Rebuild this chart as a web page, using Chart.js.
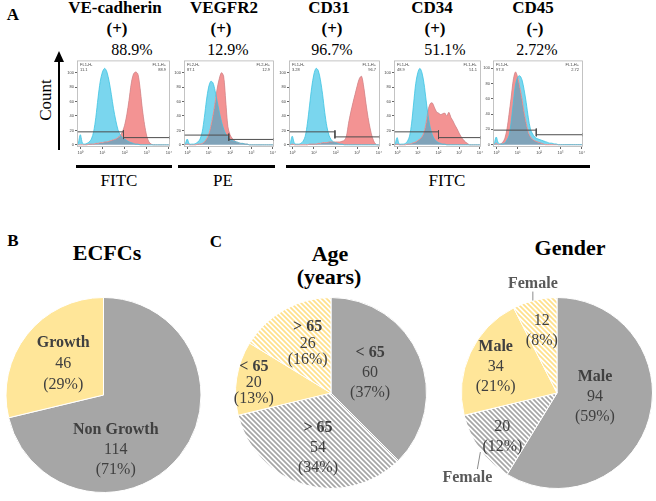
<!DOCTYPE html>
<html>
<head>
<meta charset="utf-8">
<script src="https://cdn.jsdelivr.net/npm/chart.js@4"></script>
<style>
  body { margin: 0; width: 656px; height: 501px; background: #fff; position: relative; overflow: hidden; font-family: 'Liberation Serif', 'Times New Roman', serif; color: #000; }
  .t { position: absolute; transform: translate(-50%, -50%); white-space: nowrap; line-height: 1; }
  .b { font-weight: bold; }
  .box { position: absolute; }
  .rule { position: absolute; background: #000; height: 3px; }
</style>
</head>
<body>
<div class="t b" style="left:13px;top:14px;font-size:17px">A</div>
<div class="t b" style="left:13px;top:240px;font-size:17px">B</div>
<div class="t b" style="left:216px;top:241px;font-size:17px">C</div>

<div class="t" style="left:45px;top:100px;font-size:17px;transform:translate(-50%,-50%) rotate(-90deg)">Count</div>
<div style="position:absolute;left:58px;top:60px;width:2px;height:90px;background:#000"></div>
<div style="position:absolute;left:54px;top:51px;width:0;height:0;border-left:5px solid transparent;border-right:5px solid transparent;border-bottom:11px solid #000"></div>

<div class="rule" style="left:76px;top:165px;width:96px"></div>
<div class="rule" style="left:178px;top:165px;width:97px"></div>
<div class="rule" style="left:286px;top:165px;width:304px"></div>
<div class="t" style="left:119px;top:180px;font-size:17px">FITC</div>
<div class="t" style="left:223px;top:180px;font-size:17px">PE</div>
<div class="t" style="left:447px;top:180px;font-size:17px">FITC</div>

<div class="t b" style="left:107px;top:253px;font-size:22px">ECFCs</div>
<div class="t b" style="left:330px;top:254px;font-size:22px">Age</div>
<div class="t b" style="left:329px;top:277px;font-size:22px">(years)</div>
<div class="t b" style="left:570px;top:248px;font-size:22px">Gender</div>

<div class="box" style="left:1px;top:293px;width:205px;height:204px"><canvas id="pie0"></canvas></div>
<div class="box" style="left:231px;top:293px;width:200px;height:200px"><canvas id="pie1"></canvas></div>
<div class="box" style="left:437px;top:273px;width:240px;height:240px"><canvas id="pie2"></canvas></div>

<script>
// flow cytometry panels
const markerNames = ['VE-cadherin', 'VEGFR2', 'CD31', 'CD34', 'CD45'];
const markerSign = ['(+)', '(+)', '(+)', '(+)', '(-)'];
const markerPct = ['88.9%', '12.9%', '96.7%', '51.1%', '2.72%'];
const negPct = ['11.1', '87.1', '3.28', '48.9', '97.3'];
const posPct = ['88.9', '12.9', '96.7', '51.1', '2.72'];
const channel = ['FL1-H', 'FL2-H', 'FL1-H', 'FL1-H', 'FL1-H'];

// log10 of fluorescence, one point per 0.1 decade
const xDecades = [-0.1, 0.0, 0.1, 0.2, 0.3, 0.4, 0.5, 0.6, 0.7, 0.8, 0.9, 1.0, 1.1, 1.2, 1.3, 1.4, 1.5, 1.6, 1.7, 1.8, 1.9, 2.0,
  2.1, 2.2, 2.3, 2.4, 2.5, 2.6, 2.7, 2.8, 2.9, 3.0, 3.1, 3.2, 3.3, 3.4, 3.5, 3.6, 3.7, 3.8, 3.9, 4.0];
const decadeTicks = [0, 1, 2, 3, 4];
const countTicks = [0, 20, 40, 60, 80, 100];

const vecadIso = [0, 14, 2, 1, 2, 4, 8, 18, 38, 65, 88, 101, 106, 101, 88, 70, 50, 34, 21, 14, 10, 8, 6, 4, 3, 2, 1, 1, 0, 0, 0, 0, 0, 0, 0, 0, 0, 0, 0, 0, 0, 0];
const vecadStain = [0, 0, 0, 0, 0, 1, 1, 1, 2, 2, 3, 3, 4, 4, 5, 6, 7, 8, 10, 13, 18, 27, 42, 62, 85, 98, 101, 98, 78, 50, 28, 12, 4, 1, 0, 0, 0, 0, 0, 0, 0, 0];
const vegfIso = [0, 8, 1, 1, 1, 2, 4, 8, 18, 38, 62, 80, 88, 86, 75, 60, 45, 32, 22, 15, 11, 8, 6, 5, 4, 3, 2, 2, 1, 1, 0, 0, 0, 0, 0, 0, 0, 0, 0, 0, 0, 0];
const vegfStain = [0, 1, 0, 0, 0, 0, 1, 1, 2, 4, 8, 14, 25, 40, 58, 78, 92, 100, 95, 60, 25, 14, 9, 6, 4, 3, 2, 2, 1, 1, 0, 0, 0, 0, 0, 0, 0, 0, 0, 0, 0, 0];
const cd31Iso = [0, 12, 2, 1, 1, 2, 5, 12, 30, 55, 80, 98, 106, 103, 90, 70, 45, 25, 13, 7, 4, 3, 2, 1, 1, 0, 0, 0, 0, 0, 0, 0, 0, 0, 0, 0, 0, 0, 0, 0, 0, 0];
const cd31Stain = [0, 1, 0, 0, 0, 0, 0, 0, 0, 1, 1, 1, 1, 2, 2, 3, 3, 3, 4, 4, 4, 4, 4, 4, 5, 6, 12, 30, 45, 58, 70, 82, 92, 95, 80, 58, 38, 22, 10, 3, 0, 0];
const cd34Iso = [0, 10, 1, 1, 1, 2, 5, 12, 30, 58, 85, 100, 106, 100, 85, 62, 40, 24, 14, 8, 5, 3, 2, 1, 1, 0, 0, 0, 0, 0, 0, 0, 0, 0, 0, 0, 0, 0, 0, 0, 0, 0];
const cd34Stain = [0, 1, 0, 0, 0, 0, 1, 1, 2, 3, 4, 6, 8, 11, 17, 30, 48, 57, 58, 52, 46, 44, 42, 43, 44, 40, 45, 38, 33, 27, 22, 16, 11, 7, 4, 2, 0, 0, 0, 0, 0, 0];
const cd45Iso = [0, 10, 2, 1, 1, 2, 6, 12, 30, 55, 78, 88, 90, 85, 72, 55, 35, 20, 14, 10, 8, 7, 6, 5, 4, 3, 2, 2, 1, 1, 0, 0, 0, 0, 0, 0, 0, 0, 0, 0, 0, 0];
const cd45Stain = [0, 2, 0, 1, 3, 8, 20, 40, 62, 85, 95, 88, 75, 60, 42, 28, 16, 10, 7, 5, 4, 3, 2, 1, 0, 0, 0, 0, 0, 0, 0, 0, 0, 0, 0, 0, 0, 0, 0, 0, 0, 0];

const isoSeries = [vecadIso, vegfIso, cd31Iso, cd34Iso, cd45Iso];
const stainSeries = [vecadStain, vegfStain, cd31Stain, cd34Stain, cd45Stain];

// gate markers: split point (decades) and the y of the negative / positive bars
const gateSplit = [1.95, 1.94, 1.97, 2.0, 1.87];
const gateNegY = [18, 13.5, 18, 18, 19];
const gatePosY = [10, 7.5, 11, 10, 13];

// pies
const ecfcLabels = ['Non Growth', 'Growth'];
const ecfcValues = [114, 46];
const ecfcPct = ['71%', '29%'];

const ageLabels = ['< 65', '> 65', '< 65', '> 65'];
const ageValues = [60, 54, 20, 26];
const agePct = ['37%', '34%', '13%', '16%'];

const genderLabels = ['Male', 'Female', 'Male', 'Female'];
const genderValues = [94, 20, 34, 12];
const genderPct = ['59%', '12%', '21%', '8%'];

// layout
const boxLeft = [77, 184, 289, 394, 493];
const boxWidth = [95, 92, 93, 89, 92];
const boxTop = 58, boxHeight = 89;
const yMax = [117, 117, 117, 117, 110];
const titleX = [115, 224, 329, 432, 533];
const signX = [117, 221, 332, 435, 535];
const pctX = [132, 228, 332, 445, 537];

const CYAN = '#7ad6ee', RED = '#f39393', OVER = '#80a3b9';
const GRAY = '#a6a6a6', YELLOW = '#ffe699';
const sup = ['\u2070', '\u00b9', '\u00b2', '\u00b3', '\u2074'];

function addText(txt, x, y, size, bold) {
  var d = document.createElement('div');
  d.className = 't' + (bold ? ' b' : '');
  d.style.left = x + 'px';
  d.style.top = y + 'px';
  d.style.fontSize = size + 'px';
  d.textContent = txt;
  document.body.appendChild(d);
}

for (let i = 0; i < 5; i++) {
  addText(markerNames[i], titleX[i], 7, 17, true);
  addText(markerSign[i], signX[i], 28, 17, true);
  addText(markerPct[i], pctX[i], 50, 16, false);

  const holder = document.createElement('div');
  holder.className = 'box';
  holder.style.left = (boxLeft[i] - 10) + 'px';
  holder.style.top = (boxTop - 1) + 'px';
  holder.style.width = (boxWidth[i] + 11) + 'px';
  holder.style.height = (boxHeight + 10) + 'px';
  const cv = document.createElement('canvas');
  holder.appendChild(cv);
  document.body.appendChild(holder);

  const pts = arr => arr.map((v, k) => ({x: xDecades[k], y: v}));
  const lo = -0.15, hi = 4.05;
  const gate = [
    {x: lo, y: gateNegY[i]}, {x: gateSplit[i], y: gateNegY[i]}, {x: gateSplit[i], y: null},
    {x: gateSplit[i], y: gateNegY[i] + 2}, {x: gateSplit[i], y: gatePosY[i] - 2}, {x: gateSplit[i], y: null},
    {x: gateSplit[i], y: gatePosY[i]}, {x: hi, y: gatePosY[i]}, {x: hi, y: null},
    {x: hi - 0.01, y: gatePosY[i] + 2}, {x: hi - 0.01, y: gatePosY[i] - 2}
  ];

  const frame = {
    id: 'frame' + i,
    afterDraw(chart) {
      const a = chart.chartArea, ctx = chart.ctx;
      ctx.save();
      ctx.strokeStyle = '#b5b5b5';
      ctx.lineWidth = 0.8;
      ctx.strokeRect(a.left + 0.5, a.top + 0.5, a.right - a.left - 1, a.bottom - a.top - 1);
      ctx.fillStyle = '#444';
      ctx.font = '4px Arial';
      ctx.textAlign = 'left';
      ctx.fillText(channel[i] + '-', a.left + 3, a.top + 6);
      ctx.fillText(negPct[i], a.left + 3, a.top + 11);
      ctx.textAlign = 'right';
      ctx.fillText(channel[i] + '+', a.right - 4, a.top + 6);
      ctx.fillText(posPct[i], a.right - 4, a.top + 11);
      ctx.restore();
    }
  };

  new Chart(cv, {
    type: 'line',
    data: {
      datasets: [
        {data: gate, borderColor: '#4d4d4d', borderWidth: 1, pointRadius: 0, fill: false, spanGaps: false},
        {data: pts(isoSeries[i]), borderColor: '#3ec4e2', borderWidth: 0.8, pointRadius: 0, tension: 0.3,
          fill: {target: 2, above: CYAN, below: RED}},
        {data: pts(stainSeries[i]), borderColor: '#e68484', borderWidth: 0.8, pointRadius: 0, tension: 0.3,
          fill: 'origin', backgroundColor: OVER}
      ]
    },
    options: {
      responsive: true,
      maintainAspectRatio: false,
      animation: false,
      layout: {padding: {top: 1, right: 1, left: 0, bottom: 0}},
      plugins: {legend: {display: false}, tooltip: {enabled: false}, filler: {drawTime: 'beforeDatasetsDraw'}},
      scales: {
        x: {
          type: 'linear', min: lo, max: hi,
          afterBuildTicks: s => { s.ticks = decadeTicks.map(v => ({value: v})); },
          afterFit: s => { s.height = 9; },
          ticks: {font: {size: 4}, color: '#444', padding: 1, maxRotation: 0, autoSkip: false,
            callback: v => '10' + sup[v]},
          grid: {drawOnChartArea: false, tickLength: 2, color: '#666'},
          border: {display: false}
        },
        y: {
          min: -3, max: yMax[i],
          afterBuildTicks: s => { s.ticks = countTicks.map(v => ({value: v})); },
          afterFit: s => { s.width = 10; },
          ticks: {font: {size: 4}, color: '#444', padding: 1},
          grid: {drawOnChartArea: false, tickLength: 2, color: '#666'},
          border: {display: false}
        }
      }
    },
    plugins: [frame]
  });
}

function hatch(color) {
  const c = document.createElement('canvas');
  c.width = 5; c.height = 5;
  const g = c.getContext('2d');
  g.fillStyle = '#ffffff';
  g.fillRect(0, 0, 5, 5);
  g.strokeStyle = color;
  g.lineWidth = 1.7;
  g.beginPath();
  g.moveTo(-1, -1); g.lineTo(6, 6);
  g.moveTo(-1, 4); g.lineTo(1, 6);
  g.moveTo(4, -1); g.lineTo(6, 1);
  g.stroke();
  return g.createPattern(c, 'repeat');
}

// text inside / beside each slice, offset from the slice's own centre point
const pieText = {
  id: 'pieText',
  afterDatasetsDraw(chart, args, opts) {
    const ctx = chart.ctx;
    const arcs = chart.getDatasetMeta(0).data;
    const ds = chart.data;
    ctx.save();
    ctx.textAlign = 'center';
    ctx.textBaseline = 'middle';
    arcs.forEach((arc, k) => {
      const p = arc.tooltipPosition();
      const pl = opts.place[k];
      const lines = [];
      if (!pl.out) lines.push({t: ds.labels[k], b: true});
      lines.push({t: String(ds.datasets[0].data[k]), b: false});
      lines.push({t: '(' + opts.pct[k] + ')', b: false});
      const y0 = p.y + pl.dy - (lines.length - 1) * pl.lh / 2;
      lines.forEach((ln, j) => {
        ctx.fillStyle = '#404040';
        ctx.font = (ln.b ? 'bold ' : '') + '16px "Liberation Serif"';
        ctx.fillText(ln.t, p.x + pl.dx, y0 + j * pl.lh);
      });
      if (pl.out) {
        ctx.fillStyle = '#595959';
        ctx.font = 'bold 16px "Liberation Serif"';
        ctx.fillText(ds.labels[k], p.x + pl.out.dx, p.y + pl.out.dy);
        ctx.strokeStyle = '#8c8c8c';
        ctx.lineWidth = 1;
        ctx.beginPath();
        ctx.moveTo(p.x + pl.out.l[0], p.y + pl.out.l[1]);
        ctx.lineTo(p.x + pl.out.l[2], p.y + pl.out.l[3]);
        ctx.stroke();
      }
    });
    ctx.restore();
  }
};

function pie(id, labels, values, pct, colors, place, pad) {
  new Chart(document.getElementById(id), {
    type: 'pie',
    data: {labels: labels, datasets: [{data: values, backgroundColor: colors, borderColor: '#ffffff', borderWidth: 1}]},
    options: {
      responsive: true,
      maintainAspectRatio: false,
      animation: false,
      layout: {padding: pad},
      plugins: {legend: {display: false}, tooltip: {enabled: false}, pieText: {pct: pct, place: place}}
    },
    plugins: [pieText]
  });
}

const grayHatch = hatch(GRAY);
const yellowHatch = hatch('#ffe08c');

pie('pie0', ecfcLabels, ecfcValues, ecfcPct, [GRAY, YELLOW],
  [{dx: -26, dy: 25, lh: 20}, {dx: -2, dy: -1, lh: 21}], 4);
pie('pie1', ageLabels, ageValues, agePct, [GRAY, grayHatch, YELLOW, yellowHatch],
  [{dx: -5, dy: -2, lh: 20}, {dx: 0, dy: 9, lh: 20}, {dx: -30, dy: -3, lh: 16}, {dx: 0, dy: -8, lh: 16}], 4);
pie('pie2', genderLabels, genderValues, genderPct, [GRAY, grayHatch, YELLOW, yellowHatch],
  [{dx: -8, dy: -9, lh: 20},
   {dx: -16, dy: 16, lh: 20, out: {dx: -51, dy: 57, l: [-38, 31, -41, 48]}},
   {dx: -18, dy: -6, lh: 20},
   {dx: -4, dy: -16, lh: 20, out: {dx: -13, dy: -63, l: [-13, -55, -13, -46]}}], 24);
</script>
</body>
</html>
